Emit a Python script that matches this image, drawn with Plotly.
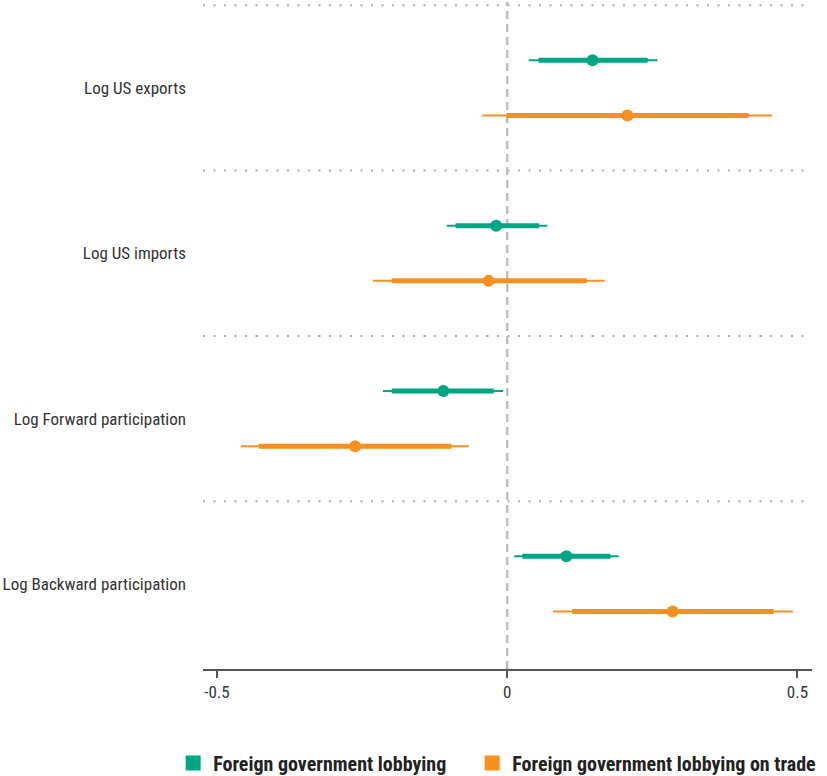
import plotly.graph_objects as go

categories = ["Log US exports", "Log US imports", "Log Forward participation", "Log Backward participation"]
series_names = ["Foreign government lobbying", "Foreign government lobbying on trade"]

# point estimates
lobby_est = [0.147, -0.019, -0.110, 0.102]
trade_est = [0.207, -0.032, -0.262, 0.285]
# inner (thick) intervals
lobby_lo90 = [0.054, -0.089, -0.199, 0.026]
lobby_hi90 = [0.242, 0.055, -0.023, 0.178]
trade_lo90 = [-0.001, -0.199, -0.428, 0.112]
trade_hi90 = [0.416, 0.137, -0.096, 0.459]
# outer (thin) intervals
lobby_lo95 = [0.037, -0.104, -0.214, 0.012]
lobby_hi95 = [0.259, 0.069, -0.007, 0.192]
trade_lo95 = [-0.043, -0.231, -0.459, 0.079]
trade_hi95 = [0.456, 0.168, -0.066, 0.492]

xtick_vals = [-0.5, 0, 0.5]
xtick_text = ["-0.5", "0", "0.5"]

GREEN = "#00a683"
ORANGE = "#f7901e"
FONT = "Liberation Sans Narrow, Roboto Condensed, Arial Narrow, Roboto, sans-serif"

n = len(categories)
ypos = [n - 1 - i for i in range(n)]
off = 0.167

def segs(lo, hi, ys):
    xs, yy = [], []
    for a, b, y in zip(lo, hi, ys):
        xs += [a, b, None]
        yy += [y, y, None]
    return xs, yy

fig = go.Figure()

for est, lo95, hi95, lo90, hi90, col, name, d, leg in [
    (lobby_est, lobby_lo95, lobby_hi95, lobby_lo90, lobby_hi90, GREEN, series_names[0], off, "legend"),
    (trade_est, trade_lo95, trade_hi95, trade_lo90, trade_hi90, ORANGE, series_names[1], -off, "legend2"),
]:
    ys = [y + d for y in ypos]
    x1, y1 = segs(lo95, hi95, ys)
    fig.add_trace(go.Scatter(x=x1, y=y1, mode="lines", line=dict(color=col, width=2),
                             showlegend=False, hoverinfo="skip"))
    x2, y2 = segs(lo90, hi90, ys)
    fig.add_trace(go.Scatter(x=x2, y=y2, mode="lines", line=dict(color=col, width=5),
                             showlegend=False, hoverinfo="skip"))
    fig.add_trace(go.Scatter(x=est, y=ys, mode="markers", marker=dict(color=col, size=12),
                             showlegend=False, name=name))
    fig.add_trace(go.Scatter(x=[None], y=[None], mode="markers", name=name, legend=leg,
                             marker=dict(color=col, size=15, symbol="square")))

shapes = []
for y in [3.5, 2.5, 1.5, 0.5]:
    shapes.append(dict(type="line", xref="paper", x0=0, x1=1, yref="y", y0=y, y1=y,
                       line=dict(color="#aaaaaa", width=2, dash="2px,8.5px"), layer="below"))
shapes.append(dict(type="line", xref="x", x0=0, x1=0, yref="paper", y0=0, y1=1,
                   line=dict(color="#bdbdbd", width=2.5, dash="8px,5px"), layer="below"))

legend_font = dict(family=FONT, size=20, color="#222222", weight="bold")

fig.update_layout(
    width=827, height=776,
    margin=dict(l=203, r=15, t=2, b=107, autoexpand=False),
    paper_bgcolor="white", plot_bgcolor="white",
    font=dict(family=FONT, size=17, color="#333333"),
    shapes=shapes,
    xaxis=dict(range=[-0.524, 0.525], tickvals=xtick_vals, ticktext=xtick_text,
               showgrid=False, zeroline=False, showline=True, linecolor="#555555", linewidth=1.5,
               ticks="outside", ticklen=7, tickcolor="#555555", tickwidth=1.5,
               tickfont=dict(size=17, color="#333333")),
    yaxis=dict(range=[-0.515, 3.52], tickvals=ypos, ticktext=categories,
               showgrid=False, zeroline=False, showline=False, ticks="",
               ticklabelstandoff=16, tickfont=dict(size=17, color="#333333")),
    legend=dict(orientation="h", x=-0.049, xanchor="left", y=-0.141, yanchor="middle",
                font=legend_font, itemclick=False, bgcolor="rgba(0,0,0,0)"),
    legend2=dict(orientation="h", x=0.442, xanchor="left", y=-0.141, yanchor="middle",
                 font=legend_font, itemclick=False, bgcolor="rgba(0,0,0,0)"),
    showlegend=True,
)

fig.write_html("out.html", config={"displayModeBar": False},
               post_script="document.body.style.margin='0';document.body.style.padding='0';")
